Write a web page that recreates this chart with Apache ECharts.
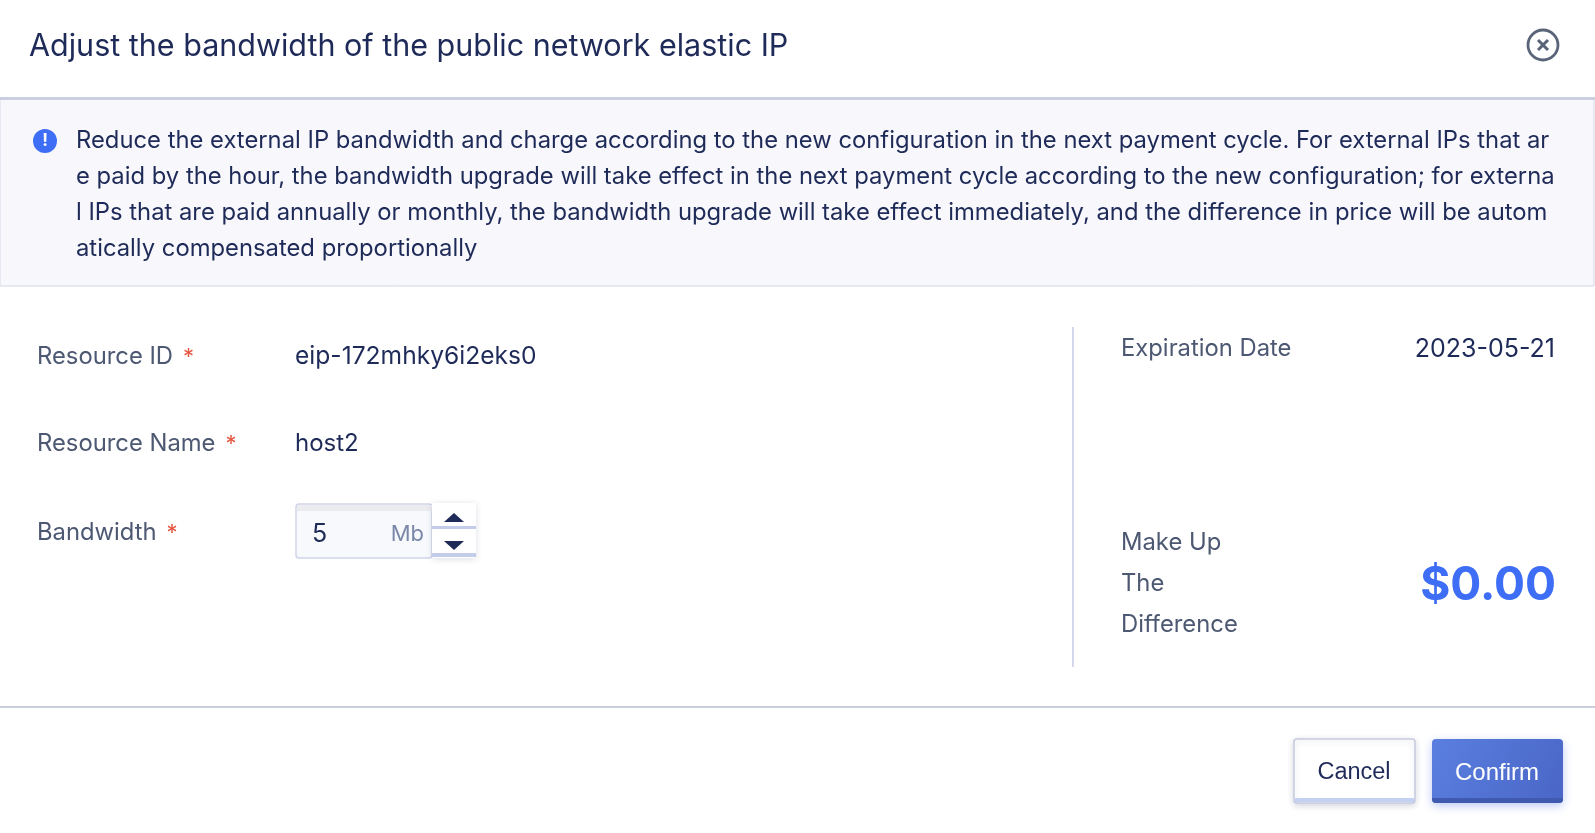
<!DOCTYPE html>
<html>
<head>
<meta charset="utf-8">
<style>
  html, body { margin: 0; padding: 0; background: #fff; }
  #main { width: 1595px; height: 833px; }
</style>
<script src="https://cdn.jsdelivr.net/npm/echarts@6/dist/echarts.min.js"></script>
</head>
<body>
<div id="main"></div>
<script>
// 对话框文字内容
var titleText = 'Adjust the bandwidth of the public network elastic IP';
var infoLines = [
  'Reduce the external IP bandwidth and charge according to the new configuration in the next payment cycle. For external IPs that ar',
  'e paid by the hour, the bandwidth upgrade will take effect in the next payment cycle according to the new configuration; for externa',
  'l IPs that are paid annually or monthly, the bandwidth upgrade will take effect immediately, and the difference in price will be autom',
  'atically compensated proportionally'
];
var formLabels = ['Resource ID', 'Resource Name', 'Bandwidth'];
var formValues = ['eip-172mhky6i2eks0', 'host2'];
var bandwidthValue = '5';
var bandwidthUnit = 'Mb';
var expireLabel = 'Expiration Date';
var expireDate = '2023-05-21';
var diffLabel = ['Make Up', 'The', 'Difference'];
var diffPrice = '$0.00';
var buttons = ['Cancel', 'Confirm'];

var FONT = 'Inter, "Noto Sans", sans-serif';
var BTN_FONT = '"Liberation Sans", Arial, sans-serif';
var NAVY = '#1e2a58';
var GREY = '#4d5872';
var BLUE = '#3d6ef5';

var myChart = echarts.init(document.getElementById('main'));

var els = [];

// 标题
els.push({
  type: 'text', x: 29, y: 47,
  style: { text: titleText, fill: NAVY, font: '30.5px ' + FONT, textVerticalAlign: 'middle' }
});
// 关闭按钮
els.push({
  type: 'circle', shape: { cx: 1543, cy: 45, r: 15 },
  style: { fill: '#fff', stroke: '#5a6478', lineWidth: 2.8 }
});
els.push({ type: 'line', shape: { x1: 1538, y1: 40, x2: 1548, y2: 50 }, style: { stroke: '#5a6478', lineWidth: 3 } });
els.push({ type: 'line', shape: { x1: 1548, y1: 40, x2: 1538, y2: 50 }, style: { stroke: '#5a6478', lineWidth: 3 } });

// 提示区域
els.push({
  type: 'rect', shape: { x: 0, y: 98, width: 1594, height: 188 },
  style: { fill: '#f8f8fc', stroke: '#d3d7e8', lineWidth: 1 }
});
els.push({ type: 'rect', shape: { x: 0, y: 97, width: 1595, height: 3 }, style: { fill: '#c9cee0' } });
els.push({ type: 'circle', shape: { cx: 45, cy: 141, r: 12 }, style: { fill: BLUE } });
els.push({
  type: 'text', x: 45, y: 141,
  style: { text: '!', fill: '#fff', font: 'bold 17px ' + FONT, textAlign: 'center', textVerticalAlign: 'middle' }
});
infoLines.forEach(function (line, i) {
  els.push({
    type: 'text', x: 76, y: 140.5 + i * 36.2,
    style: { text: line, fill: NAVY, font: '23.8px ' + FONT, textVerticalAlign: 'middle' }
  });
});

// 左侧表单
var rowY = [357, 444, 533];
formLabels.forEach(function (lab, i) {
  els.push({
    type: 'text', x: 37, y: rowY[i],
    style: {
      text: '{l|' + lab + '}{s|*}',
      textVerticalAlign: 'middle',
      rich: {
        l: { fill: GREY, font: '23.8px ' + FONT },
        s: { fill: '#e5533d', font: '22px ' + FONT, padding: [0, 0, 0, 10] }
      }
    }
  });
});
var valueFonts = ['24.6px ', '24px '];
formValues.forEach(function (v, i) {
  els.push({
    type: 'text', x: 295, y: rowY[i],
    style: { text: v, fill: NAVY, font: valueFonts[i] + FONT, textVerticalAlign: 'middle' }
  });
});

// 带宽输入框
els.push({
  type: 'rect', shape: { x: 296, y: 504, width: 136, height: 54, r: 3 },
  style: { fill: '#f8f9fc', stroke: '#d0d5e8', lineWidth: 1.5 }
});
els.push({ type: 'rect', shape: { x: 297, y: 505, width: 135, height: 6 }, style: { fill: '#ececf0' } });
els.push({
  type: 'text', x: 312, y: 534,
  style: { text: bandwidthValue, fill: NAVY, font: '25px ' + FONT, textVerticalAlign: 'middle' }
});
els.push({
  type: 'text', x: 424, y: 534,
  style: { text: bandwidthUnit, fill: '#7a88a8', font: '22px ' + FONT, textAlign: 'right', textVerticalAlign: 'middle' }
});
els.push({
  type: 'rect', shape: { x: 432, y: 503, width: 44, height: 55, r: 2 },
  style: { fill: '#fff', shadowBlur: 6, shadowColor: 'rgba(60,70,110,0.18)', shadowOffsetY: 1 }
});
els.push({ type: 'rect', shape: { x: 432, y: 526, width: 44, height: 3 }, style: { fill: '#c3cdea' } });
els.push({ type: 'rect', shape: { x: 432, y: 553, width: 44, height: 4 }, style: { fill: '#c3cdea' } });
els.push({ type: 'polygon', shape: { points: [[444, 522], [464, 522], [454, 513]] }, style: { fill: NAVY } });
els.push({ type: 'polygon', shape: { points: [[444, 541], [464, 541], [454, 550]] }, style: { fill: NAVY } });

// 分隔线
els.push({ type: 'rect', shape: { x: 1072, y: 327, width: 2, height: 340 }, style: { fill: '#d3d8ec' } });

// 右侧信息
els.push({
  type: 'text', x: 1121, y: 349,
  style: { text: expireLabel, fill: GREY, font: '23.8px ' + FONT, textVerticalAlign: 'middle' }
});
els.push({
  type: 'text', x: 1555, y: 349,
  style: { text: expireDate, fill: NAVY, font: '25px ' + FONT, textAlign: 'right', textVerticalAlign: 'middle' }
});
diffLabel.forEach(function (t, i) {
  els.push({
    type: 'text', x: 1121, y: 543 + i * 41,
    style: { text: t, fill: GREY, font: '23.8px ' + FONT, textVerticalAlign: 'middle' }
  });
});
els.push({
  type: 'text', x: 1556, y: 586,
  style: { text: diffPrice, fill: BLUE, font: 'bold 46px ' + FONT, textAlign: 'right', textVerticalAlign: 'middle' }
});

// 底部
els.push({ type: 'rect', shape: { x: 0, y: 706, width: 1595, height: 2 }, style: { fill: '#c9cddc' } });
// 取消按钮
els.push({
  type: 'rect', shape: { x: 1294, y: 739, width: 121, height: 64, r: 3 },
  style: { fill: '#fff', stroke: '#c5cade', lineWidth: 1.5, shadowBlur: 6, shadowColor: 'rgba(60,70,110,0.2)', shadowOffsetY: 2 }
});
els.push({ type: 'rect', shape: { x: 1295, y: 798, width: 119, height: 4 }, style: { fill: '#c3d2f2' } });
els.push({
  type: 'text', x: 1354, y: 773,
  style: { text: buttons[0], fill: NAVY, font: '23.5px ' + BTN_FONT, textAlign: 'center', textVerticalAlign: 'middle' }
});
// 确认按钮
els.push({
  type: 'rect', shape: { x: 1432, y: 739, width: 131, height: 64, r: 4 },
  style: {
    fill: new echarts.graphic.LinearGradient(0, 0, 1, 1, [
      { offset: 0, color: '#5a7fe0' }, { offset: 1, color: '#4a66c6' }
    ]),
    shadowBlur: 10, shadowColor: 'rgba(70,100,230,0.35)', shadowOffsetY: 3
  }
});
els.push({ type: 'rect', shape: { x: 1432, y: 798, width: 131, height: 5, r: [0, 0, 4, 4] }, style: { fill: '#3f5aae' } });
els.push({
  type: 'text', x: 1497, y: 773,
  style: { text: buttons[1], fill: '#fff', font: '24px ' + BTN_FONT, textAlign: 'center', textVerticalAlign: 'middle' }
});

var option = {
  backgroundColor: '#fff',
  graphic: { elements: els }
};
myChart.setOption(option);
</script>
</body>
</html>
